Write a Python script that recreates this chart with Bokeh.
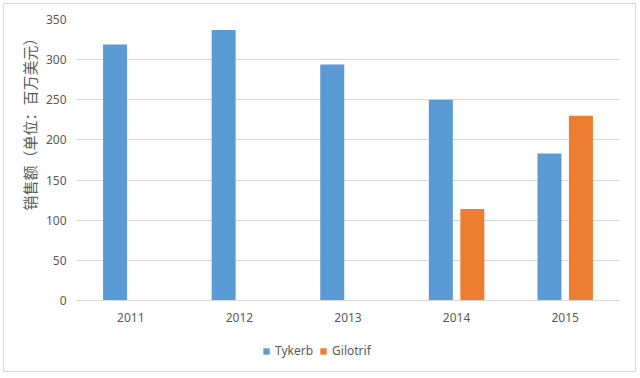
from bokeh.plotting import figure
from bokeh.layouts import column
from bokeh.models import FactorRange, Range1d, FixedTicker, Legend, LegendItem, Title, ColumnDataSource
from bokeh.transform import dodge
from bokeh.embed import file_html
from bokeh.resources import INLINE

years = ["2011", "2012", "2013", "2014", "2015"]
tykerb = [319, 337, 294, 250, 183]
gilotrif = [float("nan"), float("nan"), float("nan"), 114, 230]
y_ticks = [0, 50, 100, 150, 200, 250, 300, 350]
y_title = "销售额（单位：百万美元）"
series_names = ["Tykerb", "Gilotrif"]
series_colors = ["#5B9BD5", "#ED7D31"]

src = ColumnDataSource(dict(year=years, tykerb=tykerb, gilotrif=gilotrif))

TXT = "#595959"
GRID = "#d9d9d9"

p = figure(width=631, height=331, x_range=FactorRange(*years), y_range=Range1d(0, 350),
           output_backend="svg", toolbar_location=None, title=None,
           min_border_left=72, min_border_right=16, min_border_top=15, min_border_bottom=35)
p.outline_line_color = None
p.background_fill_color = "white"
p.border_fill_color = "white"

r1 = p.vbar(x=dodge("year", -0.145, range=p.x_range), top="tykerb", width=0.221, source=src,
            fill_color=series_colors[0], line_color=None)
r2 = p.vbar(x=dodge("year", 0.145, range=p.x_range), top="gilotrif", width=0.221, source=src,
            fill_color=series_colors[1], line_color=None)

p.xgrid.grid_line_color = None
p.ygrid.grid_line_color = GRID
p.ygrid.grid_line_width = 1

p.yaxis.ticker = FixedTicker(ticks=y_ticks)
p.yaxis.axis_line_color = None
p.yaxis.major_tick_line_color = None
p.yaxis.minor_tick_line_color = None
p.yaxis.major_tick_out = 0
p.yaxis.minor_tick_out = 0
p.yaxis.major_label_standoff = 10
p.yaxis.major_label_text_font = "Noto Sans"
p.yaxis.major_label_text_font_size = "12px"
p.yaxis.major_label_text_color = TXT

p.xaxis.axis_line_color = GRID
p.xaxis.major_tick_line_color = None
p.xaxis.minor_tick_line_color = None
p.xaxis.major_tick_out = 0
p.xaxis.minor_tick_out = 0
p.xaxis.major_label_standoff = 12
p.xaxis.major_label_text_font = "Noto Sans"
p.xaxis.major_label_text_font_size = "12px"
p.xaxis.major_label_text_color = TXT

p.add_layout(Title(text=y_title, align="left", offset=90, text_font="Noto Sans CJK SC",
                   text_font_size="15px", text_color=TXT, text_font_style="normal", standoff=5), "left")

# legend strip below the chart (its frame is aligned with the chart's frame)
p2 = figure(width=631, height=36, output_backend="svg", toolbar_location=None, title=None,
            x_axis_type=None, y_axis_type=None,
            min_border_left=0, min_border_right=0, min_border_top=0, min_border_bottom=6)
p2.outline_line_color = None
p2.xgrid.grid_line_color = None
p2.ygrid.grid_line_color = None
p2.background_fill_color = "white"
p2.border_fill_color = "white"
key_src = ColumnDataSource(dict(x=[0], top=[0]))
k1 = p2.vbar(x="x", top="top", width=1, source=key_src, fill_color=series_colors[0], line_color=None)
k2 = p2.vbar(x="x", top="top", width=1, source=key_src, fill_color=series_colors[1], line_color=None)

legend = Legend(items=[LegendItem(label=series_names[0], renderers=[k1]),
                       LegendItem(label=series_names[1], renderers=[k2])],
                orientation="horizontal", location=(186, 6),
                glyph_width=8, glyph_height=8, label_standoff=5, spacing=6,
                label_text_font="Noto Sans", label_text_font_size="12px", label_text_color=TXT,
                border_line_color=None, background_fill_alpha=0, margin=0, padding=6)
p2.add_layout(legend, "center")

layout = column(p, p2, spacing=0)
layout.margin = (3, 0, 0, 3)
layout.styles = {"border": "1px solid #d9d9d9"}
open("out.html", "w").write(file_html(layout, INLINE))
